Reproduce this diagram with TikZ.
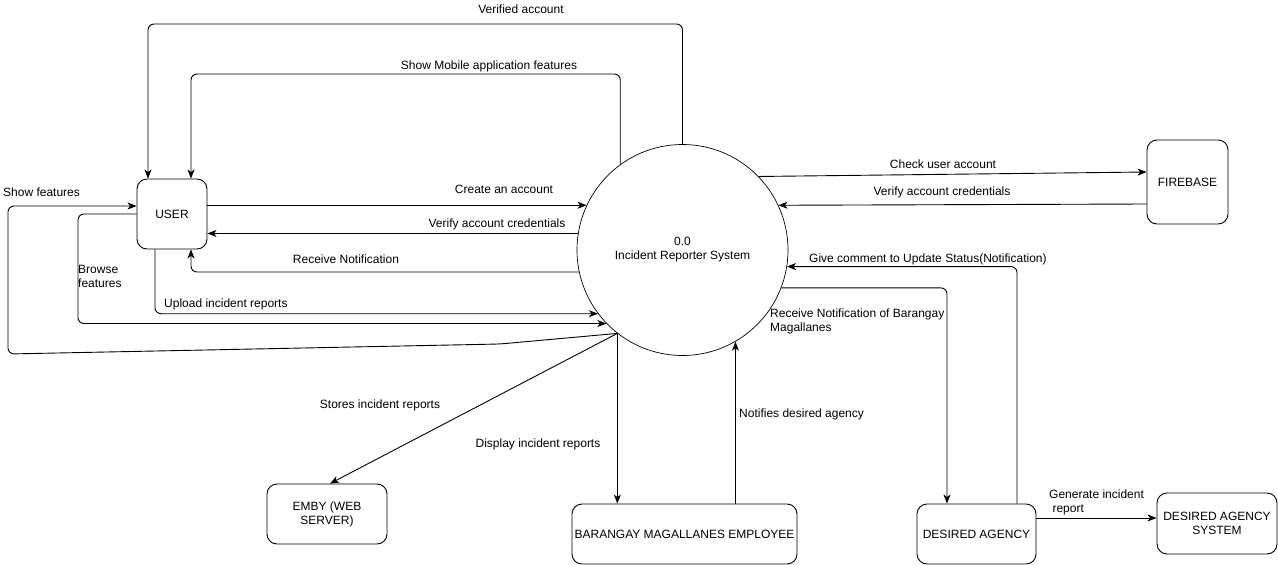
\documentclass[tikz,border=0pt]{standalone}
\usepackage{fontspec}
\setmainfont{Liberation Sans}
\usetikzlibrary{arrows.meta}
\begin{document}
\begin{tikzpicture}[x=1pt,y=-1pt,
  every node/.style={font=\fontsize{12}{14}\selectfont},
  box/.style={draw, rounded corners=10pt, line width=0.9pt, align=center, inner sep=2pt},
  proc/.style={draw, circle, line width=0.7pt, minimum size=211pt, align=center, inner sep=0pt},
  flow/.style={line width=0.9pt, rounded corners=6pt, -{Stealth[length=9pt,width=7pt,inset=2.5pt]}},
  lbl/.style={inner sep=0pt, align=center},
  lbll/.style={inner sep=0pt, align=left, anchor=west}]
\useasboundingbox (0,0) rectangle (1278,565);

% entities and the process
\node[proc] (sys) at (682.5,250) {0.0\\Incident Reporter System};
\node[box, minimum width=70pt, minimum height=70pt] (user) at (172,214) {USER};
\node[box, minimum width=81pt, minimum height=84pt] (fire) at (1187.5,182) {FIREBASE};
\node[box, minimum width=120pt, minimum height=60pt] (emby) at (327,514) {EMBY (WEB\\SERVER)};
\node[box, minimum width=225pt, minimum height=60pt] (brgy) at (684.5,534) {BARANGAY MAGALLANES EMPLOYEE};
\node[box, minimum width=119pt, minimum height=60pt] (agency) at (976.5,534) {DESIRED AGENCY};
\node[box, minimum width=120pt, minimum height=61pt] (agsys) at (1217,523.5) {DESIRED AGENCY\\SYSTEM};

% flows between USER and the system
\draw[flow] (sys.north) -- (sys.north |- 0,24) -| ([xshift=-24pt]user.north);
\draw[flow] (sys.126.5) -- (sys.126.5 |- 0,74) -| ([xshift=19pt]user.north);
\draw[flow] (user.east |- sys.155) -- (sys.155);
\draw[flow] (sys.171) -- (sys.171 -| user.east);
\draw[flow] (sys.192.9) -| ([xshift=19pt]user.south);
\draw[flow] ([xshift=-17pt]user.south) |- (sys.217);
\draw[flow] (user.west) -- (78,214) |- (sys.224.2);
\draw[flow] (sys.232.3) -- (500,344) -- (8,354) -- (8,206) -- (user.west |- 0,206);

% flows with FIREBASE
\draw[flow] (sys.44.2) -- (fire.west |- 0,172);
\draw[flow] (fire.west |- 0,204) -- (sys.25.5);

% flows with the agency
\draw[flow] ([xshift=40.5pt]agency.north) |- (sys.351.5);
\draw[flow] (sys.339.2) -| ([xshift=-29.5pt]agency.north);
\draw[flow] (agency.east |- 0,518) -- (agsys.west |- 0,518);

% flows with EMBY and the barangay employee
\draw[flow] (sys.232.3) -- ([xshift=3pt]emby.north);
\draw[flow] (sys.232.3) -- (sys.232.3 |- brgy.north);
\draw[flow] (brgy.north -| sys.300.5) -- (sys.300.5);

% flow labels
\node[lbl] (l1) at (521,9.5) {Verified account};
\node[lbl] (l2) at (489,66) {Show Mobile application features};
\node[lbl] (l3) at (504,189) {Create an account};
\node[lbl] (l4) at (497,224) {Verify account credentials};
\node[lbl] (l5) at (346,259) {Receive Notification};
\node[lbll] (l6) at (164,304) {Upload incident reports};
\node[lbll] (l7) at (78,276) {Browse\\features};
\node[lbll] (l8) at (3,192) {Show features};
\node[lbl] (l9) at (943,164) {Check user account};
\node[lbl] (l10) at (942,192) {Verify account credentials};
\node[lbll] (l11) at (809,259) {Give comment to Update Status(Notification)};
\node[lbll] (l12) at (770,321.5) {Receive Notification of Barangay\\Magallanes};
\node[lbl] (l13) at (380,405) {Stores incident reports};
\node[lbl] (l14) at (538,444) {Display incident reports};
\node[lbll] (l15) at (739,414) {Notifies desired agency};
\node[lbll] (l16) at (1049,502) {Generate incident\\\ report};
\end{tikzpicture}
\end{document}
